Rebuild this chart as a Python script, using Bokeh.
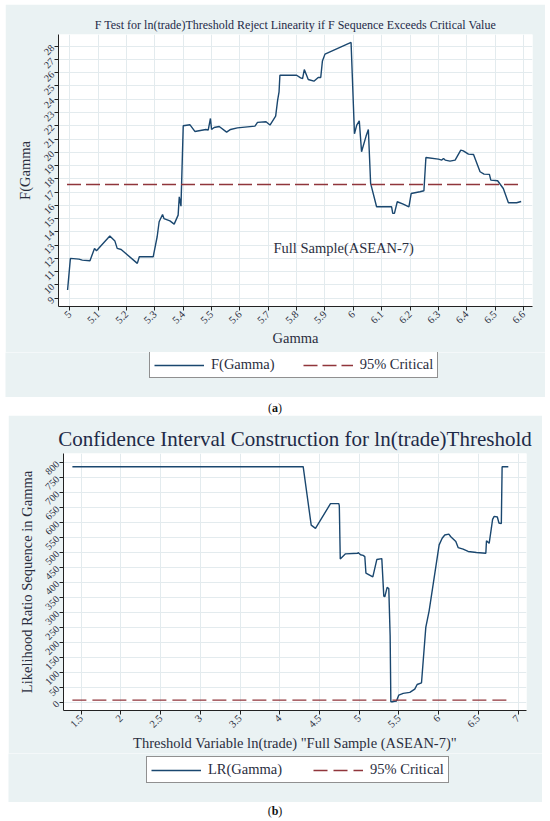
from bokeh.plotting import figure
from bokeh.models import Legend, LegendItem, FixedTicker, Label, Div, Range1d, Spacer
from bokeh.layouts import column, row
from bokeh.embed import file_html
from bokeh.resources import INLINE
import math

# ---------------- data: panel (a) ----------------
f_gamma_x = [4.992, 5.002, 5.032, 5.044, 5.071, 5.087, 5.094, 5.141, 5.159, 5.167,
             5.181, 5.238, 5.245, 5.294, 5.308, 5.315, 5.327, 5.332, 5.353, 5.368,
             5.382, 5.386, 5.392, 5.400, 5.424, 5.441, 5.480, 5.488, 5.496, 5.500,
             5.509, 5.527, 5.553, 5.567, 5.591, 5.653, 5.662, 5.692, 5.706, 5.726,
             5.733, 5.738, 5.741, 5.800, 5.814, 5.821, 5.827, 5.841, 5.861, 5.876,
             5.885, 5.891, 5.900, 5.992, 6.004, 6.012, 6.021, 6.029, 6.045, 6.053,
             6.061, 6.082, 6.135, 6.139, 6.145, 6.155, 6.176, 6.196, 6.204, 6.235,
             6.249, 6.256, 6.300, 6.312, 6.318, 6.324, 6.341, 6.359, 6.379, 6.388,
             6.406, 6.424, 6.447, 6.461, 6.480, 6.485, 6.509, 6.529, 6.547, 6.576,
             6.592]
f_gamma_y = [9.61, 12.00, 11.94, 11.87, 11.82, 12.75, 12.57, 13.68, 13.30, 12.75,
             12.67, 11.62, 12.12, 12.12, 13.63, 14.76, 15.31, 15.00, 14.83, 14.58,
             15.26, 16.64, 15.94, 22.00, 22.07, 21.57, 21.72, 21.67, 22.55, 21.72,
             21.87, 21.94, 21.52, 21.72, 21.84, 21.97, 22.25, 22.30, 22.05, 22.72,
             23.93, 24.56, 25.81, 25.81, 25.61, 25.56, 26.24, 25.49, 25.36, 25.64,
             25.64, 26.89, 27.40, 28.28, 21.40, 22.05, 22.37, 20.04, 21.22, 21.72,
             17.65, 15.89, 15.89, 15.39, 15.39, 16.27, 16.09, 15.89, 16.89, 17.02,
             17.10, 19.61, 19.48, 19.41, 19.53, 19.41, 19.33, 19.41, 20.16, 20.11,
             19.86, 19.83, 18.53, 18.35, 18.33, 17.90, 17.85, 17.27, 16.19, 16.19,
             16.29]
f_crit_x = [4.99, 6.592]
f_crit_y = [17.57, 17.57]

a_xticks = [5.0, 5.1, 5.2, 5.3, 5.4, 5.5, 5.6, 5.7, 5.8, 5.9, 6.0, 6.1, 6.2, 6.3, 6.4, 6.5, 6.6]
a_xlabels = ["5", "5.1", "5.2", "5.3", "5.4", "5.5", "5.6", "5.7", "5.8", "5.9", "6",
             "6.1", "6.2", "6.3", "6.4", "6.5", "6.6"]
a_yticks = [9, 10, 11, 12, 13, 14, 15, 16, 17, 18, 19, 20, 21, 22, 23, 24, 25, 26, 27, 28]

# ---------------- data: panel (b) ----------------
lr_x = [1.389, 4.295, 4.396, 4.450, 4.639, 4.744, 4.750, 4.762, 4.828, 4.983,
        4.987, 5.017, 5.050, 5.071, 5.085, 5.172, 5.222, 5.285, 5.310, 5.323,
        5.352, 5.373, 5.390, 5.399, 5.428, 5.470, 5.499, 5.554, 5.638, 5.700,
        5.730, 5.785, 5.839, 5.881, 6.007, 6.045, 6.078, 6.129, 6.154, 6.217,
        6.246, 6.309, 6.372, 6.477, 6.595, 6.603, 6.637, 6.666, 6.680, 6.700,
        6.740, 6.760, 6.790, 6.800, 6.878]
lr_y = [785.7, 785.7, 591.0, 580.0, 662.5, 662.5, 655.0, 478.0, 495.0, 497.0,
        499.6, 492.0, 490.0, 486.0, 431.0, 418.0, 476.0, 479.0, 354.0, 352.0,
        383.0, 379.0, 222.0, 2.0, 2.0, 4.4, 24.0, 29.7, 33.0, 44.0,
        59.4, 65.0, 250.0, 305.0, 525.0, 547.0, 558.0, 561.0, 552.0, 536.0,
        516.0, 510.6, 503.0, 499.6, 497.0, 539.0, 530.0, 583.0, 610.0, 620.0,
        618.0, 598.0, 596.0, 785.7, 785.7]
lr_crit_x = [1.389, 6.90]
lr_crit_y = [7.35, 7.35]

b_xticks = [1.5, 2.0, 2.5, 3.0, 3.5, 4.0, 4.5, 5.0, 5.5, 6.0, 6.5, 7.0]
b_xlabels = ["1.5", "2", "2.5", "3", "3.5", "4", "4.5", "5", "5.5", "6", "6.5", "7"]
b_yticks = [0, 50, 100, 150, 200, 250, 300, 350, 400, 450, 500, 550, 600, 650, 700, 750, 800]

# ---------------- styles ----------------
FONT = "Liberation Serif"
PANEL = "#eaf2f3"
GRID = "#e3ebee"
NAVY = "#1a476f"
MAROON = "#90353b"
TXT = "#2a2e3e"
TITLE = "#1e2a48"
WA = 540
WB = 534


def style(p, xt, xl, yt, title_fs, xlab_standoff):
    p.background_fill_color = "white"
    p.border_fill_color = PANEL
    p.outline_line_color = None
    p.title.text_font = FONT
    p.title.text_font_style = "normal"
    p.title.text_font_size = title_fs
    p.title.text_color = TITLE
    p.title.align = "center"
    p.title.standoff = 5
    p.xaxis.ticker = FixedTicker(ticks=xt)
    p.xaxis.major_label_overrides = {t: l for t, l in zip(xt, xl)}
    p.yaxis.ticker = FixedTicker(ticks=yt)
    for ax in (p.xaxis, p.yaxis):
        ax.major_label_orientation = math.pi / 4
        ax.major_label_text_font = FONT
        ax.major_label_text_color = TXT
        ax.axis_label_text_font = FONT
        ax.axis_label_text_font_style = "normal"
        ax.axis_label_text_font_size = "14.5px"
        ax.axis_label_text_color = TXT
        ax.axis_line_color = "#222222"
        ax.major_tick_line_color = "#222222"
        ax.major_tick_out = 4
        ax.major_tick_in = 0
        ax.minor_tick_line_color = None
        ax.major_label_standoff = 2
        ax.axis_label_standoff = 4
    p.xaxis.axis_label_standoff = xlab_standoff
    p.xaxis.major_label_text_font_size = "10.5px"
    p.yaxis.major_label_text_font_size = "10px"
    p.xgrid.ticker = FixedTicker(ticks=xt)
    p.ygrid.ticker = FixedTicker(ticks=yt)
    p.grid.grid_line_color = GRID
    p.grid.grid_line_width = 1


def legend_fig(width, height, series, labels, dashes, spacing, loc):
    q = figure(width=width, height=height, output_backend="svg", toolbar_location=None,
               x_range=Range1d(0, width), y_range=Range1d(0, height),
               x_axis_type=None, y_axis_type=None,
               min_border_left=0, min_border_right=0, min_border_top=0, min_border_bottom=0)
    q.background_fill_color = PANEL
    q.border_fill_color = PANEL
    q.outline_line_color = None
    q.grid.visible = False
    (x1, y1), (x2, y2) = series
    r1 = q.line(x1, y1, line_color=NAVY, line_width=1.4, visible=False)
    r2 = q.line(x2, y2, line_color=MAROON, line_width=1.4, line_dash=dashes, visible=False)
    leg = Legend(items=[LegendItem(label=labels[0], renderers=[r1]),
                        LegendItem(label=labels[1], renderers=[r2])],
                 orientation="horizontal", location=loc)
    leg.label_text_font = FONT
    leg.label_text_font_size = "14.5px"
    leg.label_text_color = TXT
    leg.border_line_color = "#222222"
    leg.border_line_width = 1
    leg.background_fill_color = "white"
    leg.background_fill_alpha = 1
    leg.glyph_width = 50
    leg.glyph_height = 16
    leg.label_height = 16
    leg.label_standoff = 7
    leg.padding = 4
    leg.spacing = spacing
    leg.margin = 0
    q.add_layout(leg, "center")
    return q


# ---------------- panel (a) ----------------
pa = figure(width=WA, height=348, output_backend="svg", toolbar_location=None,
            x_range=Range1d(4.96, 6.632), y_range=Range1d(8.37, 28.88),
            min_border_left=53, min_border_right=13, min_border_top=30, min_border_bottom=46,
            title="F Test for ln(trade)Threshold Reject Linearity if F Sequence Exceeds Critical Value")
style(pa, a_xticks, a_xlabels, a_yticks, "12px", 0)
pa.xaxis.axis_label = "Gamma"
pa.yaxis.axis_label = "F(Gamma"
pa.line(f_gamma_x, f_gamma_y, line_color=NAVY, line_width=1.4)
pa.line(f_crit_x, f_crit_y, line_color=MAROON, line_width=1.4, line_dash="14 5")
pa.add_layout(Label(x=5.718, y=12.76, text="Full Sample(ASEAN-7)", text_font=FONT,
                    text_font_size="14.5px", text_color=TXT, text_baseline="middle",
                    text_align="left"))
la = legend_fig(WA, 45, [(f_gamma_x, f_gamma_y), (f_crit_x, f_crit_y)],
                ["F(Gamma)", "95% Critical"], "14 5", 28, (144, 19))

cap_a = Div(text="(<b>a</b>)", width=550, height=18, margin=0,
            styles={"text-align": "center", "font-family": FONT, "font-size": "12px",
                    "line-height": "22px", "color": "#111111"})

# ---------------- panel (b) ----------------
pb = figure(width=WB, height=338, output_backend="svg", toolbar_location=None,
            x_range=Range1d(1.277, 7.107), y_range=Range1d(-27.4, 829.7),
            min_border_left=55, min_border_right=16, min_border_top=38, min_border_bottom=40,
            title="Confidence Interval Construction for ln(trade)Threshold")
style(pb, b_xticks, b_xlabels, b_yticks, "21px", 1)
pb.xaxis.axis_label = 'Threshold Variable ln(trade) "Full Sample (ASEAN-7)"'
pb.yaxis.axis_label = "Likelihood Ratio Sequence in Gamma"
pb.line(lr_x, lr_y, line_color=NAVY, line_width=1.4)
pb.line(lr_crit_x, lr_crit_y, line_color=MAROON, line_width=1.4, line_dash="14 6")
lb = legend_fig(WB, 49, [(lr_x, lr_y), (lr_crit_x, lr_crit_y)],
                ["LR(Gamma)", "95% Critical"], "14 6", 31, (138, 19))

cap_b = Div(text="(<b>b</b>)", width=550, height=19, margin=0,
            styles={"text-align": "center", "font-family": FONT, "font-size": "12px",
                    "line-height": "19px", "color": "#111111"})

layout = column(
    Spacer(width=550, height=4),
    row(Spacer(width=5, height=348), pa, spacing=0),
    row(Spacer(width=5, height=45), la, spacing=0),
    cap_a,
    row(Spacer(width=8, height=338), pb, spacing=0),
    row(Spacer(width=8, height=49), lb, spacing=0),
    cap_b,
    spacing=0)
open("out.html", "w").write(file_html(layout, INLINE))
